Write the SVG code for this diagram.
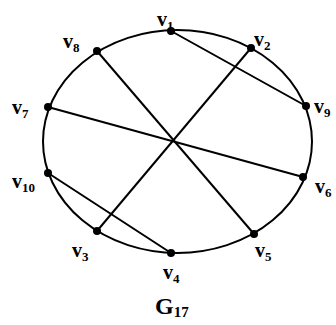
<svg xmlns="http://www.w3.org/2000/svg" width="336" height="325" viewBox="0 0 336 325">
<style>
.e{stroke:#000;stroke-width:2;fill:none}
.n{fill:#000}
.t{font-family:"Liberation Serif","Times New Roman",serif;font-weight:bold;font-size:20px;fill:#000}
.s{font-size:13px}
.g{font-family:"Liberation Serif","Times New Roman",serif;font-weight:bold;font-size:24px;fill:#000}
.gs{font-size:15px}
</style>
<rect width="336" height="325" fill="#fff"/>
<ellipse class="e" cx="177.5" cy="141.5" rx="134.5" ry="111.5"/>
<g id="connectors">
<line class="e" x1="171" y1="31" x2="306" y2="106"/>
<line class="e" x1="251" y1="48" x2="97" y2="231"/>
<line class="e" x1="97" y1="51" x2="254" y2="234"/>
<line class="e" x1="48" y1="107" x2="303" y2="177"/>
<line class="e" x1="48" y1="173" x2="171" y2="253"/>
</g>
<g id="v1"><circle class="n" cx="171" cy="31" r="4"/><text class="t" x="157" y="26">v<tspan class="s" dy="4">1</tspan></text></g>
<g id="v2"><circle class="n" cx="251" cy="48" r="4"/><text class="t" x="254" y="46">v<tspan class="s" dy="4">2</tspan></text></g>
<g id="v9"><circle class="n" cx="306" cy="106" r="4"/><text class="t" x="314" y="113">v<tspan class="s" dy="4">9</tspan></text></g>
<g id="v6"><circle class="n" cx="303" cy="177" r="4"/><text class="t" x="315" y="193">v<tspan class="s" dy="4">6</tspan></text></g>
<g id="v5"><circle class="n" cx="254" cy="234" r="4"/><text class="t" x="255" y="257">v<tspan class="s" dy="4">5</tspan></text></g>
<g id="v4"><circle class="n" cx="171" cy="253" r="4"/><text class="t" x="163" y="279">v<tspan class="s" dy="4">4</tspan></text></g>
<g id="v3"><circle class="n" cx="97" cy="231" r="4"/><text class="t" x="72" y="257">v<tspan class="s" dy="4">3</tspan></text></g>
<g id="v10"><circle class="n" cx="48" cy="173" r="4"/><text class="t" x="12" y="188">v<tspan class="s" dy="4">10</tspan></text></g>
<g id="v7"><circle class="n" cx="48" cy="107" r="4"/><text class="t" x="12" y="114">v<tspan class="s" dy="4">7</tspan></text></g>
<g id="v8"><circle class="n" cx="97" cy="51" r="4"/><text class="t" x="63" y="48">v<tspan class="s" dy="4">8</tspan></text></g>
<text class="g" x="155" y="314">G<tspan class="gs" dy="3">17</tspan></text>
</svg>
